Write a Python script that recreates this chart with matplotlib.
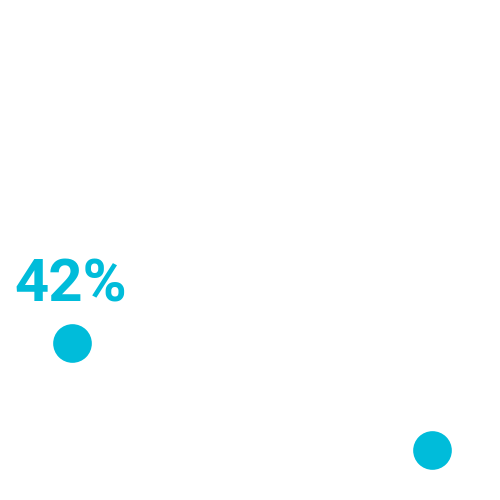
import matplotlib
matplotlib.use('Agg')
import matplotlib.pyplot as plt

# two points, only the first one labelled
positions = [0, 1]
values = [42, 18]
labels = ['42%', '']

color = '#00bcda'

fig = plt.figure(figsize=(5, 5), dpi=100)
ax = fig.add_axes([0, 0, 1, 1])
ax.set_xlim(-0.199, 1.19)
ax.set_ylim(6.8, 118.6)
ax.axis('off')

ax.scatter(positions, values, s=775, color=color, linewidths=0, zorder=3)

for x, v, lab in zip(positions, values, labels):
    if lab:
        ax.annotate(lab, (x, v), xytext=(-41.5, 29.3), textcoords='offset points',
                    ha='left', va='baseline', color=color, fontsize=43,
                    fontweight='bold', family=['Roboto', 'DejaVu Sans'])

fig.savefig('out.png', dpi=100, facecolor='white')
